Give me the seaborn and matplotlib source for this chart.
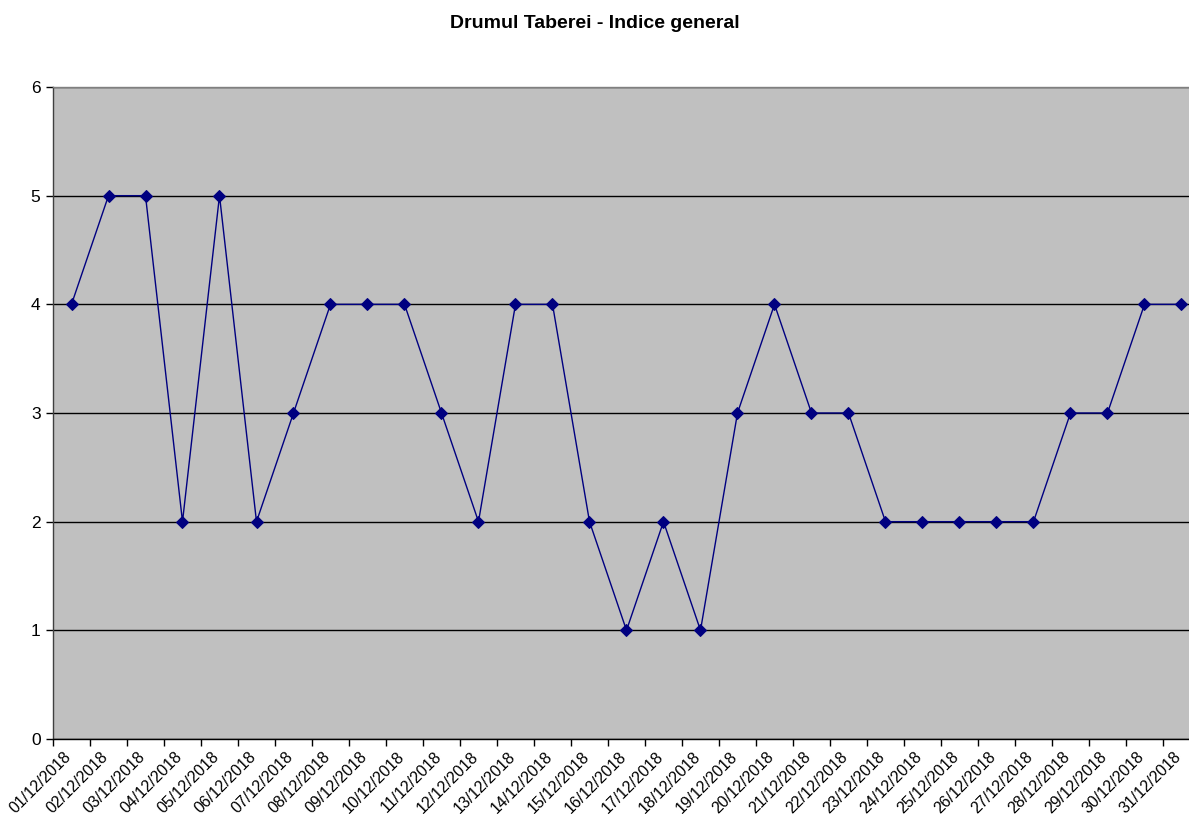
import matplotlib
matplotlib.use("Agg")
import matplotlib.pyplot as plt
import matplotlib.transforms as mtransforms
import numpy as np
import pandas as pd
import seaborn as sns

DATES = [f"{d:02d}/12/2018" for d in range(1, 32)]
VALUES = [4, 5, 5, 2, 5, 2, 3, 4, 4, 4, 3, 2, 4, 4, 2, 1, 2, 1, 3, 4,
          3, 3, 2, 2, 2, 2, 2, 3, 3, 4, 4]
Y_TICKS = [0, 1, 2, 3, 4, 5, 6]
TITLE = "Drumul Taberei - Indice general"

sns.set_style("white")
plt.rcParams["font.family"] = ["Liberation Sans", "DejaVu Sans"]
plt.rcParams["text.color"] = "black"
plt.rcParams["xtick.color"] = "black"
plt.rcParams["ytick.color"] = "black"

df = pd.DataFrame({"data": DATES, "indice": VALUES})
df["pos"] = np.arange(len(df))

fig = plt.figure(figsize=(11.89, 8.14), dpi=100)
W, H = 1189, 814
ax = fig.add_axes([53 / W, 75 / H, 1147 / W, 652 / H])
ax.set_facecolor("#C0C0C0")

sns.lineplot(data=df, x="pos", y="indice", ax=ax, color="#000080",
             linewidth=1.0, marker="D", markersize=6, markeredgecolor="#000080",
             markerfacecolor="#000080", zorder=3)

ax.set_xlim(-0.5, len(DATES) - 0.5)
ax.set_ylim(0, 6)
ax.set_yticks(Y_TICKS)
ax.yaxis.grid(True, color="black", linewidth=1.0)
ax.xaxis.grid(False)
ax.set_axisbelow(True)

# category labels at centres, tick marks on the boundaries
ax.set_xticks(df["pos"])
ax.set_xticklabels(DATES, rotation=45, ha="right", va="top",
                   rotation_mode="anchor", fontsize=11.5, color="black")
ax.set_xticks(np.arange(-0.5, len(DATES)), minor=True)
ax.tick_params(axis="x", which="major", length=0, pad=7)
ax.tick_params(axis="x", which="minor", length=5, width=1, color="black",
               direction="out", bottom=True)
ax.tick_params(axis="y", length=5, width=1, color="black", direction="out",
               labelsize=12.5, labelcolor="black", pad=4, left=True)
shift = mtransforms.ScaledTranslation(-8 / 100, 0, fig.dpi_scale_trans)
for lbl in ax.get_xticklabels():
    lbl.set_transform(lbl.get_transform() + shift)

for side in ["top", "right"]:
    ax.spines[side].set_color("#808080")
    ax.spines[side].set_linewidth(1.0)
ax.spines["left"].set_color("#404040")
ax.spines["bottom"].set_color("black")
ax.spines["left"].set_linewidth(1.0)
ax.spines["bottom"].set_linewidth(1.0)

ax.set_xlabel("")
ax.set_ylabel("")
fig.text(0.5, 1 - 23 / H, TITLE, ha="center", va="center",
         fontsize=14, fontweight="bold", color="black")

fig.savefig("out.png", dpi=100)
